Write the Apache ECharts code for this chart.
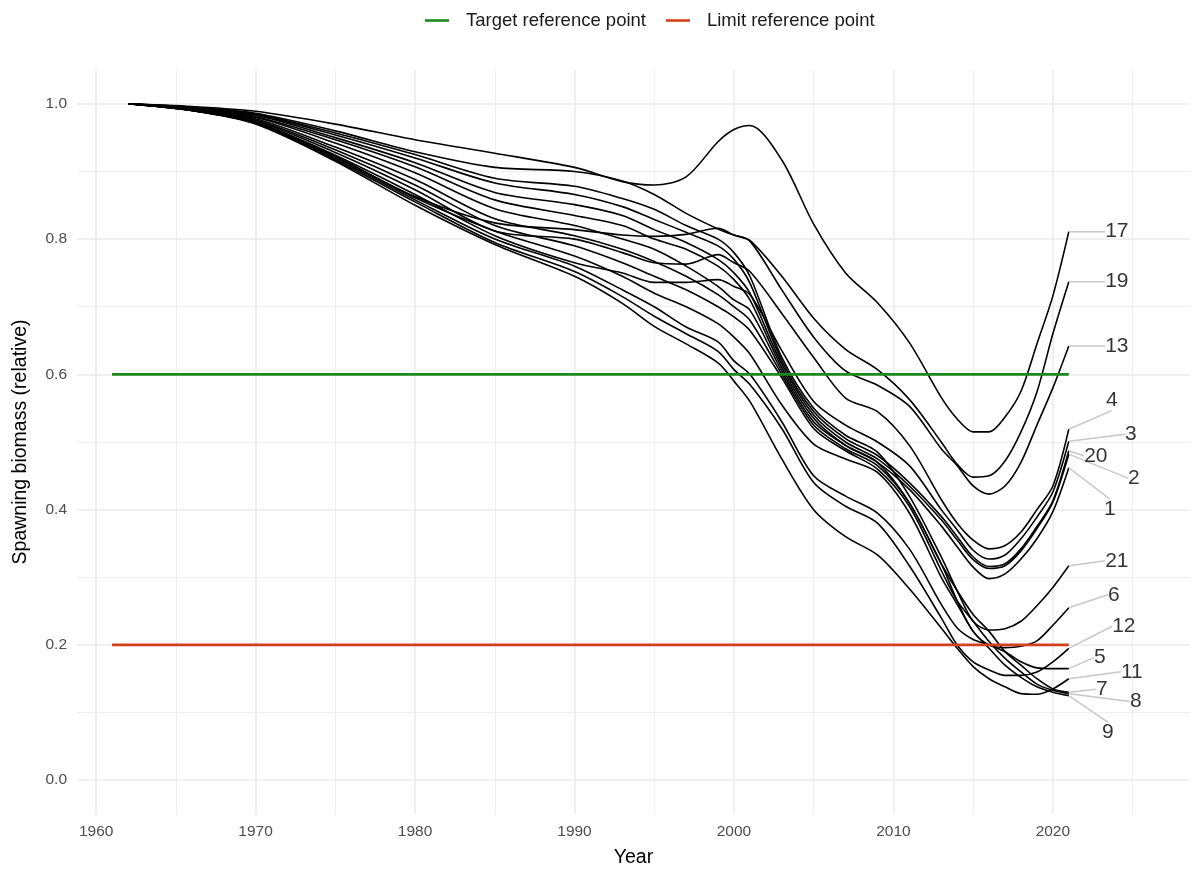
<!DOCTYPE html>
<html lang="en">
<head>
<meta charset="UTF-8">
<title>Spawning biomass (relative)</title>
<script src="https://cdn.jsdelivr.net/npm/echarts@6/dist/echarts.min.js"></script>
<style>
  html, body { margin: 0; padding: 0; background: #fff; }
  #chart { width: 1197px; height: 873px; }
</style>
</head>
<body>
<div id="chart"></div>
<script>
var years = [1962, 1966, 1970, 1975, 1980, 1985, 1990, 1993, 1995, 1997, 1999, 2000, 2001,
  2003, 2005, 2007, 2009, 2011, 2013, 2014, 2015, 2016, 2017, 2018, 2019, 2020, 2021];

// relative spawning biomass, one array per run
var run17 = [1, .996, .989, .970, .947, .927, .906, .885, .880, .892, .944, .962, .968, .917, .822, .750, .706, .647, .566, .534, .515, .515, .537, .575, .645, .716, .811];
var run19 = [1, .995, .986, .960, .929, .906, .900, .886, .866, .838, .815, .806, .798, .745, .683, .637, .607, .563, .500, .467, .448, .450, .472, .515, .574, .660, .737];
var run13 = [1, .990, .973, .922, .863, .824, .814, .806, .804, .807, .816, .806, .797, .725, .655, .605, .584, .553, .490, .465, .435, .423, .435, .470, .525, .580, .642];
var run4  = [1, .991, .975, .928, .873, .812, .800, .780, .765, .763, .777, .765, .752, .690, .625, .565, .545, .495, .415, .380, .355, .342, .347, .367, .400, .435, .519];
var run3  = [1, .991, .973, .924, .866, .805, .765, .750, .736, .736, .740, .730, .718, .635, .560, .525, .500, .465, .400, .370, .340, .327, .333, .357, .389, .426, .501];
var run21 = [1, .995, .985, .957, .925, .890, .878, .860, .844, .820, .800, .780, .745, .625, .550, .510, .485, .420, .330, .280, .235, .222, .224, .235, .258, .285, .317];
var run20 = [1, .994, .984, .954, .920, .883, .866, .848, .829, .810, .790, .770, .735, .620, .545, .505, .480, .440, .390, .360, .330, .316, .320, .342, .375, .413, .487];
var run2  = [1, .994, .983, .950, .913, .869, .851, .835, .814, .795, .770, .750, .720, .615, .540, .500, .475, .435, .385, .355, .326, .313, .317, .339, .372, .411, .482];
var run1  = [1, .993, .981, .947, .907, .858, .835, .820, .800, .785, .760, .740, .710, .610, .535, .495, .470, .430, .376, .345, .315, .298, .305, .327, .357, .397, .462];
var run6  = [1, .993, .980, .942, .898, .845, .820, .800, .785, .760, .730, .710, .695, .605, .530, .495, .470, .410, .320, .265, .220, .200, .196, .198, .206, .229, .255];
var run7  = [1, .992, .978, .936, .888, .830, .805, .785, .767, .745, .718, .700, .680, .600, .525, .490, .465, .410, .320, .280, .245, .220, .190, .170, .150, .135, .130];
var run8  = [1, .992, .976, .932, .880, .820, .790, .765, .745, .725, .700, .685, .665, .595, .520, .487, .460, .405, .310, .265, .235, .205, .180, .160, .142, .133, .128];
var run9  = [1, .990, .972, .921, .861, .812, .775, .745, .720, .700, .675, .655, .630, .555, .497, .475, .455, .395, .300, .260, .220, .195, .170, .152, .138, .130, .125];
var run5  = [1, .990, .972, .919, .858, .800, .760, .725, .700, .670, .648, .620, .600, .530, .450, .420, .395, .342, .260, .225, .208, .200, .190, .175, .166, .165, .165];
var run12 = [1, .990, .971, .917, .855, .795, .752, .715, .686, .660, .634, .607, .585, .520, .440, .405, .380, .317, .240, .200, .175, .163, .155, .155, .160, .175, .195];
var run11 = [1, .990, .970, .915, .850, .792, .745, .705, .671, .645, .617, .590, .560, .475, .400, .360, .333, .283, .225, .195, .168, .150, .138, .128, .127, .135, .150];

var runNames = ['17', '19', '13', '4', '3', '21', '20', '2', '1', '6', '7', '8', '9', '5', '12', '11'];
var runValues = [run17, run19, run13, run4, run3, run21, run20, run2, run1, run6, run7, run8, run9, run5, run12, run11];

// reference points
var refYears = [1961, 2021];
var targetLevel = 0.6;
var limitLevel = 0.2;

// axis breaks
var xBreaks = [1960, 1970, 1980, 1990, 2000, 2010, 2020];
var xMinorBreaks = [1965, 1975, 1985, 1995, 2005, 2015, 2025];
var yBreaks = [0, 0.2, 0.4, 0.6, 0.8, 1.0];
var yMinorBreaks = [0.1, 0.3, 0.5, 0.7, 0.9];

// where each end label sits relative to its line end (px), like ggrepel put them
var labelShift = {
  '17': [48, 0], '19': [48, 0], '13': [48, 0], '4': [43, -29], '3': [62, -7],
  '20': [27, 5], '2': [65, 24], '1': [41, 42], '21': [48, -5], '6': [45, -13],
  '12': [55, -22], '5': [31, -11], '11': [63, -7], '7': [33, -3], '8': [67, 8], '9': [39, 37]
};

var FONT = 'Liberation Sans, Arial, Helvetica, sans-serif';
var chart = echarts.init(document.getElementById('chart'));

function isBreak(v, list) {
  for (var i = 0; i < list.length; i++) {
    if (Math.abs(v - list[i]) < 1e-6) return true;
  }
  return false;
}

var majorGrid = { color: '#ebebeb', width: 1.6, type: 'solid' };
var minorGrid = { color: '#ebebeb', width: 0.8, type: 'solid' };
var gridLines = [];
xBreaks.forEach(function (v) { gridLines.push({ xAxis: v, lineStyle: majorGrid }); });
xMinorBreaks.forEach(function (v) { gridLines.push({ xAxis: v, lineStyle: minorGrid }); });
yBreaks.forEach(function (v) { gridLines.push({ yAxis: v, lineStyle: majorGrid }); });
yMinorBreaks.forEach(function (v) { gridLines.push({ yAxis: v, lineStyle: minorGrid }); });

var series = [{
  name: 'grid',
  type: 'line',
  data: [],
  z: 0,
  silent: true,
  markLine: {
    z: 0,
    silent: true,
    symbol: ['none', 'none'],
    label: { show: false },
    emphasis: { disabled: true },
    animation: false,
    data: gridLines
  }
}];

runValues.forEach(function (vals, i) {
  series.push({
    name: 'run ' + runNames[i],
    type: 'line',
    data: years.map(function (y, j) { return [y, vals[j]]; }),
    showSymbol: false,
    smooth: 0.3,
    silent: true,
    z: 2,
    lineStyle: { color: '#000', width: 1.6 }
  });
});

series.push({
  name: 'Target reference point',
  type: 'line',
  data: refYears.map(function (y) { return [y, targetLevel]; }),
  showSymbol: false,
  silent: true,
  z: 3,
  color: '#1b8a1b',
  lineStyle: { color: '#1b8a1b', width: 2.6 }
});
series.push({
  name: 'Limit reference point',
  type: 'line',
  data: refYears.map(function (y) { return [y, limitLevel]; }),
  showSymbol: false,
  silent: true,
  z: 3,
  color: '#d2401e',
  lineStyle: { color: '#d2401e', width: 2.6 }
});

// end labels with grey leader lines
var last = years.length - 1;
series.push({
  name: 'labels',
  type: 'scatter',
  z: 4,
  silent: true,
  symbolSize: 1,
  itemStyle: { color: 'rgba(0,0,0,0)' },
  data: runNames.map(function (n, i) {
    return { name: n, value: [years[last], runValues[i][last]] };
  }),
  label: {
    show: true,
    position: 'inside',
    formatter: '{b}',
    fontFamily: FONT,
    fontSize: 21,
    color: '#000'
  },
  labelLine: { show: true, lineStyle: { color: '#c8c8c8', width: 1.5 } },
  labelLayout: function (p) {
    var s = labelShift[runNames[p.dataIndex]];
    return { dx: s[0], dy: s[1] };
  }
});

chart.setOption({
  animation: false,
  backgroundColor: '#fff',
  textStyle: { fontFamily: FONT },
  legend: {
    data: ['Target reference point', 'Limit reference point'],
    top: 6,
    left: 420,
    icon: 'rect',
    itemWidth: 24,
    itemHeight: 2.6,
    itemGap: 20,
    selectedMode: false,
    textStyle: { fontFamily: FONT, fontSize: 18.5, color: '#1a1a1a', padding: [0, 0, 0, 12] }
  },
  grid: { left: 77, right: 7, top: 70, bottom: 57 },
  xAxis: {
    type: 'value',
    min: 1958.8,
    max: 2028.6,
    axisLine: { show: false },
    axisTick: { show: false },
    splitLine: { show: false },
    axisLabel: {
      color: '#4d4d4d',
      fontFamily: FONT,
      fontSize: 15.5,
      margin: 10,
      formatter: function (v) { return isBreak(v, xBreaks) ? String(Math.round(v)) : ''; }
    },
    name: 'Year',
    nameLocation: 'middle',
    nameGap: 34,
    nameTextStyle: { fontFamily: FONT, fontSize: 19.5, color: '#000' }
  },
  yAxis: {
    type: 'value',
    min: -0.05,
    max: 1.05,
    axisLine: { show: false },
    axisTick: { show: false },
    splitLine: { show: false },
    axisLabel: {
      color: '#4d4d4d',
      fontFamily: FONT,
      fontSize: 15.5,
      margin: 10,
      formatter: function (v) { return isBreak(v, yBreaks) ? v.toFixed(1) : ''; }
    },
    name: 'Spawning biomass (relative)',
    nameLocation: 'middle',
    nameRotate: 90,
    nameGap: 46,
    nameTextStyle: { fontFamily: FONT, fontSize: 19.5, color: '#000' }
  },
  series: series
});
</script>
</body>
</html>
